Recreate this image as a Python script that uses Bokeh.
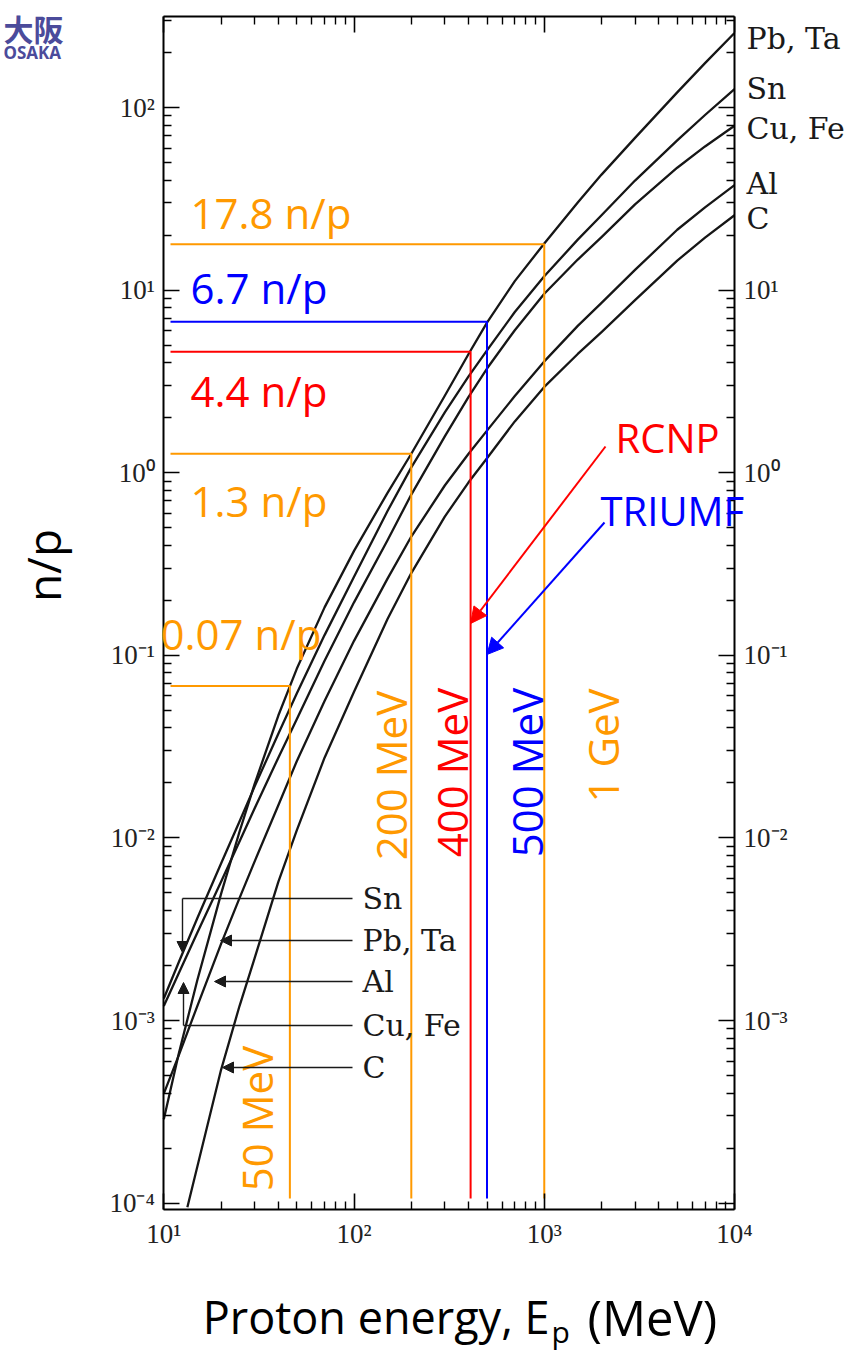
import math
from bokeh.plotting import figure
from bokeh.models import (FixedTicker, Label, Arrow, NormalHead, Range1d,
                          LogAxis, BasicTickFormatter)
from bokeh.embed import file_html
from bokeh.resources import INLINE

# ------------------------------------------------------------------ data
energy_mev = [10, 12, 15, 20, 25, 30, 40, 50, 70, 100, 150, 200, 300, 400, 500,
              700, 1000, 1500, 2000, 3000, 5000, 7000, 10000]
energy_mev_c = [13.3, 15, 20, 25, 30, 40, 50, 70, 100, 150, 200, 300, 400, 500,
                700, 1000, 1500, 2000, 3000, 5000, 7000, 10000]
yield_pb_ta = [2.88e-4, 6.61e-4, 1.66e-3, 4.94e-3, 0.0108, 0.0197, 0.0468, 0.0843,
               0.183, 0.373, 0.776, 1.27, 2.64, 4.47, 6.64, 11.2, 18.0, 30.2, 42.9,
               68.2, 121, 175, 256]
yield_sn = [1.32e-3, 2.09e-3, 3.63e-3, 7.24e-3, 0.0123, 0.0191, 0.0372, 0.0617,
            0.129, 0.269, 0.617, 1.07, 2.14, 3.37, 4.68, 7.59, 11.9, 18.9, 25.7,
            39.8, 66.1, 91.0, 126]
yield_cu_fe = [1.2e-3, 1.82e-3, 3.02e-3, 5.75e-3, 9.55e-3, 0.0145, 0.0275, 0.0447,
               0.0933, 0.195, 0.427, 0.759, 1.58, 2.60, 3.72, 6.03, 9.55, 14.7, 19.5,
               29.5, 46.8, 61.2, 79.4]
yield_al = [3.98e-4, 6.46e-4, 1.2e-3, 2.63e-3, 4.68e-3, 7.41e-3, 0.0151, 0.0263,
            0.0562, 0.12, 0.263, 0.447, 0.851, 1.27, 1.70, 2.63, 4.07, 6.37, 8.51,
            12.9, 21.4, 28.4, 37.6]
yield_c = [9.5e-5, 1.58e-4, 5.37e-4, 1.2e-3, 2.19e-3, 5.75e-3, 0.011, 0.0275,
           0.0631, 0.158, 0.282, 0.575, 0.886, 1.20, 1.91, 2.95, 4.47, 5.89, 8.81,
           14.5, 19.4, 25.7]
series_names = ["Pb, Ta", "Sn", "Cu, Fe", "Al", "C"]

# marked operating points (as drawn)
mark_energy = [46, 200, 410, 500, 1000]
mark_yield = [0.068, 1.27, 4.6, 6.7, 17.8]
mark_energy_text = ["50 MeV", "200 MeV", "400 MeV", "500 MeV", "1 GeV"]
mark_yield_text = ["0.07 n/p", "1.3 n/p", "4.4 n/p", "6.7 n/p", "17.8 n/p"]
facilities = ["RCNP", "TRIUMF"]

x_major = [10, 100, 1000, 10000]
x_tick_labels = ["10¹", "10²", "10³", "10⁴"]
y_major = [1e-4, 1e-3, 1e-2, 1e-1, 1, 10, 100]
y_tick_labels_left = ["10⁻⁴", "10⁻³", "10⁻²", "10⁻¹", "10⁰", "10¹", "10²"]
y_tick_labels_right = ["", "10⁻³", "10⁻²", "10⁻¹", "10⁰", "10¹", ""]

# ------------------------------------------------------------------ styles / layout
ORANGE, RED, BLUE = "#FF9900", "#FF0000", "#0000FF"
INK = "#1a1a1a"
mark_colors = [ORANGE, ORANGE, RED, BLUE, ORANGE]
SANS = "Open Sans"
SERIF = "DejaVu Serif"
TICKFONT = "Liberation Serif"

W, H = 856, 1355
FX0, FX1, FY0, FY1 = 163.3, 734.0, 16.0, 1209.0   # canvas px of the axes box
PXD_Y = 182.6                                      # px per decade on y
LY_TOP = 2 + (107 - FY0) / PXD_Y


def ex(px):
    return 10 ** (1 + 3 * (px - FX0) / (FX1 - FX0))


def ey(py):
    return 10 ** (LY_TOP - (py - FY0) / PXD_Y)


X_LO, X_HI = 10.0, 1e4
Y_LO, Y_HI = ey(FY1), ey(FY0)

x_minor = [k * 10.0 ** n for n in range(1, 4) for k in range(2, 10)]
y_minor = [v for v in (k * 10.0 ** n for n in range(-5, 3) for k in range(2, 10))
           if Y_LO < v < Y_HI]

p = figure(width=W, height=H, x_axis_type="log", y_axis_type="log",
           x_range=Range1d(ex(0), ex(W)), y_range=Range1d(ey(H), ey(0)),
           x_axis_location=None, y_axis_location=None,
           output_backend="svg", toolbar_location=None, min_border=0)
p.xgrid.visible = False
p.ygrid.visible = False
p.outline_line_color = None
p.background_fill_color = "white"
p.border_fill_color = "white"


def make_axis(fixed, bounds, ticks, minor, labels, show_labels=True):
    ax = LogAxis(fixed_location=fixed, bounds=bounds,
                 ticker=FixedTicker(ticks=ticks, minor_ticks=minor))
    ax.formatter = BasicTickFormatter()
    ax.major_label_overrides = {float(t): s for t, s in zip(ticks, labels)}
    ax.axis_line_color = "black"
    ax.axis_line_width = 2
    ax.major_tick_in = 16
    ax.major_tick_out = 0
    ax.minor_tick_in = 8
    ax.minor_tick_out = 0
    ax.major_tick_line_width = 1.6
    ax.minor_tick_line_width = 1.4
    ax.major_tick_line_color = "black"
    ax.minor_tick_line_color = "black"
    ax.major_label_text_font = TICKFONT
    ax.major_label_text_color = "#222222"
    ax.major_label_text_font_size = "27px" if show_labels else "0px"
    ax.major_label_standoff = 9
    return ax


p.add_layout(make_axis(Y_LO, (X_LO, X_HI), x_major, x_minor, x_tick_labels), "below")
p.add_layout(make_axis(Y_HI, (X_LO, X_HI), x_major, x_minor,
                       ["" for _ in x_major], show_labels=False), "above")
p.add_layout(make_axis(X_LO, (Y_LO, Y_HI), y_major, y_minor, y_tick_labels_left), "left")
p.add_layout(make_axis(X_HI, (Y_LO, Y_HI), y_major, y_minor, y_tick_labels_right), "right")

# ------------------------------------------------------------------ curves
curve_sets = [(energy_mev, yield_pb_ta), (energy_mev, yield_sn),
              (energy_mev, yield_cu_fe), (energy_mev, yield_al),
              (energy_mev_c, yield_c)]
for xs, ys in curve_sets:
    p.line(xs, ys, line_color="#161616", line_width=2.3, line_join="round")

# ------------------------------------------------------------------ marked points
start_e = ex(170)
floor_y = ey(1198)
for e, y, c in zip(mark_energy, mark_yield, mark_colors):
    p.line([start_e, e, e], [y, y, floor_y], line_color=c, line_width=2)

yield_label_px = [(160, 633), (190, 500), (190, 390), (190, 287), (190, 212)]
for (px, py), txt, c in zip(yield_label_px, mark_yield_text, mark_colors):
    p.add_layout(Label(x=ex(px), y=ey(py), text=txt, text_font=SANS,
                       text_font_size="42px", text_color=c,
                       text_align="left", text_baseline="middle"))

energy_label_px = [(256, 1118), (390, 775), (451, 772), (526, 772), (602, 745)]
for (px, py), txt, c in zip(energy_label_px, mark_energy_text, mark_colors):
    p.add_layout(Label(x=ex(px), y=ey(py), text=txt, text_font=SANS,
                       text_font_size="42px", text_color=c, angle=math.pi / 2,
                       text_align="center", text_baseline="middle"))

fac_colors = [RED, BLUE]
fac_text_px = [(615, 437), (600, 510)]
fac_tail_px = [(605, 446), (604, 522)]
fac_tip = [(mark_energy[2], ey(623)), (mark_energy[3], ey(654))]
for name, c, (tx, ty), (sx, sy), (xe, ye) in zip(facilities, fac_colors, fac_text_px,
                                                  fac_tail_px, fac_tip):
    p.add_layout(Label(x=ex(tx), y=ey(ty), text=name, text_font=SANS,
                       text_font_size="40px", text_color=c,
                       text_align="left", text_baseline="middle"))
    p.add_layout(Arrow(end=NormalHead(size=16, fill_color=c, line_color=c),
                       x_start=ex(sx), y_start=ey(sy), x_end=xe, y_end=ye,
                       line_color=c, line_width=2))

# ------------------------------------------------------------------ inset key (bottom left)
key_names = ["Sn", "Pb, Ta", "Al", "Cu, Fe", "C"]
key_row_px = [898, 940, 981, 1025, 1067]
key_tip_px = [182, 220, 214, 183, 222]
key_vert_tip_px = [952, None, None, 982, None]
KEY_RIGHT, KEY_TEXT = 352, 362
for name, ry, tx, vt in zip(key_names, key_row_px, key_tip_px, key_vert_tip_px):
    p.add_layout(Label(x=ex(KEY_TEXT), y=ey(ry), text=name, text_font=SERIF,
                       text_font_size="30px", text_color=INK,
                       text_align="left", text_baseline="middle"))
    head = NormalHead(size=11, fill_color=INK, line_color=INK)
    if vt is None:
        p.add_layout(Arrow(end=head, x_start=ex(KEY_RIGHT), y_start=ey(ry),
                           x_end=ex(tx), y_end=ey(ry), line_color=INK, line_width=1.6))
    else:
        p.line([ex(KEY_RIGHT), ex(tx)], [ey(ry), ey(ry)], line_color=INK, line_width=1.6)
        p.add_layout(Arrow(end=head, x_start=ex(tx), y_start=ey(ry),
                           x_end=ex(tx), y_end=ey(vt), line_color=INK, line_width=1.4))

# right-hand curve names
right_name_py = [38, 88, 128, 183, 218]
for name, py in zip(series_names, right_name_py):
    p.add_layout(Label(x=ex(746), y=ey(py), text=name, text_font=SERIF,
                       text_font_size="30px", text_color=INK,
                       text_align="left", text_baseline="middle"))

# ------------------------------------------------------------------ axis titles
p.add_layout(Label(x=ex(42), y=ey(565), text="n/p", text_font=SANS,
                   text_font_size="46px", text_color="black", angle=math.pi / 2,
                   text_align="center", text_baseline="middle"))
p.add_layout(Label(x=ex(549), y=ey(1316), text="Proton energy, E", text_font=SANS,
                   text_font_size="45px", text_color="black",
                   text_align="right", text_baseline="middle"))
p.add_layout(Label(x=ex(551), y=ey(1331), text="p", text_font=SANS,
                   text_font_size="30px", text_color="black",
                   text_align="left", text_baseline="middle"))
p.add_layout(Label(x=ex(587), y=ey(1316), text="(MeV)", text_font=SANS,
                   text_font_size="49px", text_color="black",
                   text_align="left", text_baseline="middle"))

# ------------------------------------------------------------------ logo fragment (top left)
p.add_layout(Label(x=ex(3), y=ey(27), text="大阪", text_font="Noto Sans CJK JP",
                   text_font_size="30px", text_font_style="bold", text_color="#4b4b9b",
                   text_align="left", text_baseline="middle"))
p.add_layout(Label(x=ex(3), y=ey(52), text="OSAKA", text_font="Noto Sans",
                   text_font_size="17px", text_font_style="bold", text_color="#4b4b9b",
                   text_align="left", text_baseline="middle"))

open("out.html", "w").write(file_html(p, INLINE))
